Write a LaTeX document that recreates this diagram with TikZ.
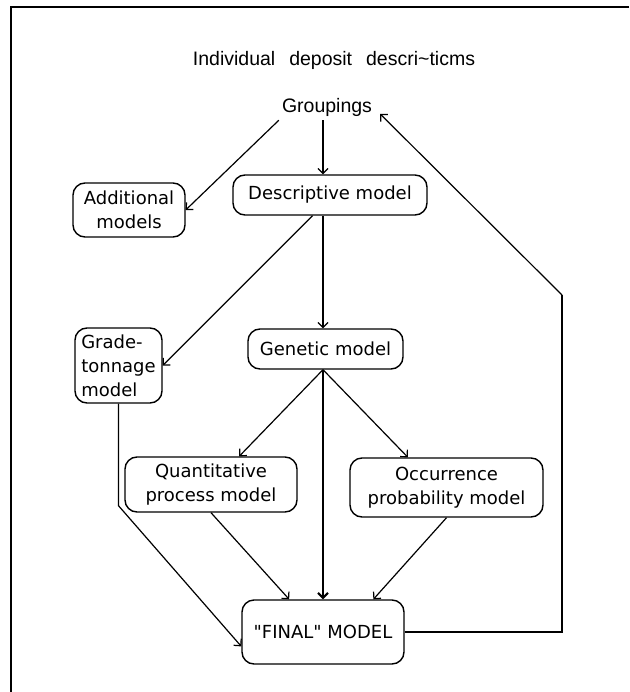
\documentclass[tikz,border=0pt]{standalone}
\usepackage{fontspec}
\setmainfont{Liberation Sans}
\newfontfamily\handfont{DejaVu Sans}[Ligatures=TeXOff]
\usetikzlibrary{arrows.meta}

\begin{document}
\begin{tikzpicture}[x=1pt, y=-1pt,
    modelbox/.style={draw, line width=1.4pt, rounded corners=12pt, align=center, inner sep=0pt, font=\handfont\fontsize{18}{24}\selectfont},
    flow/.style={line width=1.2pt, -{Straight Barb[length=5pt, width=10pt]}},
    heavy/.style={line width=2.6pt},
    frameline/.style={line width=2pt}]
    \useasboundingbox (0,0) rectangle (629,692);
    \draw[frameline] (629,7) -- (11,7) -- (11,692);

    \node[anchor=base, font=\fontsize{19.5}{22}\selectfont] (title) at (334,66) {Individual\hspace{14pt}deposit\hspace{14pt}descri\textasciitilde ticms};
    \node[anchor=base, inner sep=3pt, font=\fontsize{19.5}{22}\selectfont] (groupings) at (327,113) {Groupings};

    \node[modelbox, minimum width=112pt, minimum height=54pt] (additional) at (129,210) {Additional\\models};
    \node[modelbox, minimum width=194pt, minimum height=40pt] (descriptive) at (330,195) {Descriptive model};
    \node[modelbox, minimum width=87pt, minimum height=75pt, align=left] (grade) at (118.5,365.5) {Grade-\\tonnage\\model};
    \node[modelbox, minimum width=155pt, minimum height=40pt] (genetic) at (325.5,349) {Genetic model};
    \node[modelbox, minimum width=172pt, minimum height=55pt] (quantitative) at (211,484.5) {Quantitative\\process model};
    \node[modelbox, minimum width=193pt, minimum height=59pt] (occurrence) at (446.5,487.5) {Occurrence\\probability model};
    \node[modelbox, minimum width=162pt, minimum height=64pt] (final) at (323,632) {"FINAL" MODEL};

    \coordinate (axis) at (323,0);
    \coordinate (back) at (562,295);

    \draw[flow] (groupings.south -| axis) -- (descriptive.north -| axis);
    \draw[flow] (groupings.south west) -- (additional.east);
    \draw[flow] (descriptive.230) -- (grade.east);
    \draw[flow] (descriptive.south -| axis) -- (genetic.north -| axis);
    \draw[flow] (genetic.south -| axis) -- (quantitative.45);
    \draw[flow] (genetic.south -| axis) -- (occurrence.142);
    \draw[flow, line width=2pt] (genetic.south -| axis) -- (final.north -| axis);
    \draw[flow] (quantitative.south) -- (final.136);
    \draw[flow] (occurrence.south) -- (final.33);
    \draw[flow] (grade.south) -- ++(0,102) -- (final.190);
    \draw[heavy] (final.east) -| (back);
    \draw[flow] (back) -- ([shift={(5,6)}]groupings.east);
\end{tikzpicture}
\end{document}
